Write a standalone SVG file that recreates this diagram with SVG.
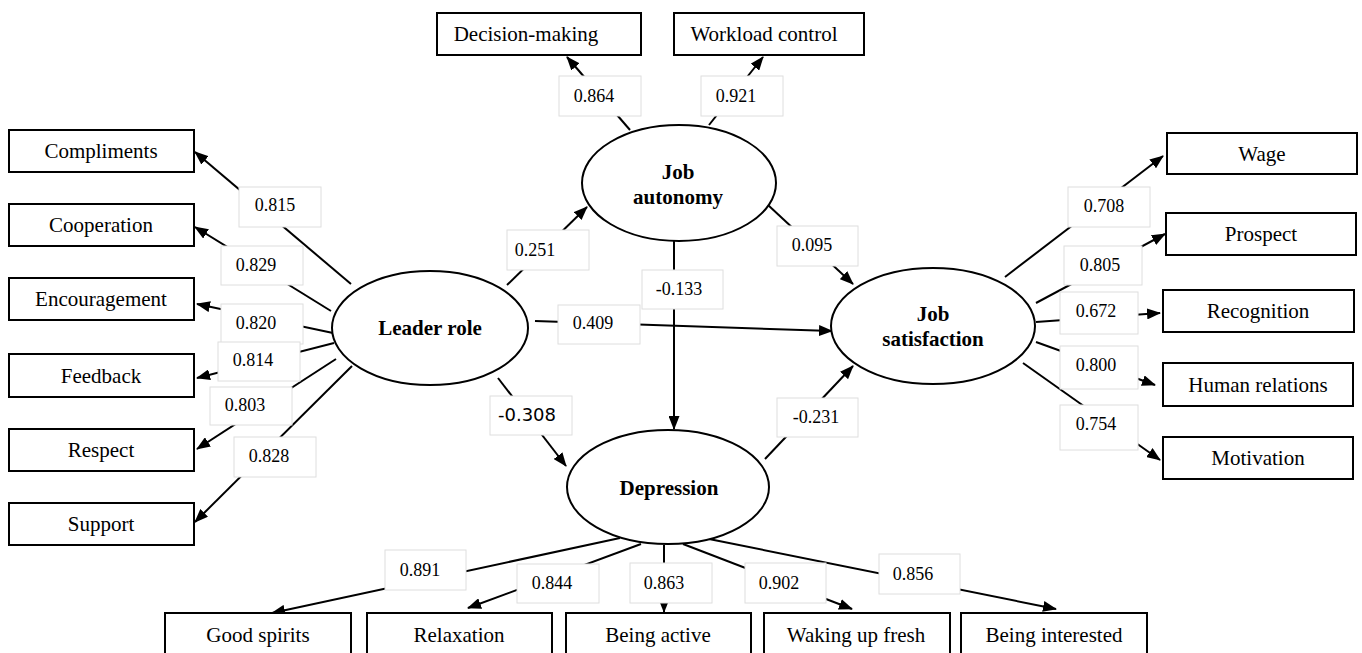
<svg xmlns="http://www.w3.org/2000/svg" width="1362" height="653" viewBox="0 0 1362 653">
<defs>
<marker id="ah" viewBox="0 0 14 11" refX="13" refY="5.5" markerWidth="14" markerHeight="11" markerUnits="userSpaceOnUse" orient="auto">
<path d="M0,0 L14,5.5 L0,11 z" fill="#000"/>
</marker>
<style>
.box{fill:#fff;stroke:#000;stroke-width:2}
.lat{fill:#fff;stroke:#000;stroke-width:2}
.lbl{fill:#fff;stroke:#dedede;stroke-width:1}
.t{font-family:"Liberation Serif",serif;font-size:21px;fill:#000;text-anchor:middle}
.tb{font-family:"Liberation Serif",serif;font-size:21px;font-weight:bold;fill:#000;text-anchor:middle}
.n{font-family:"Liberation Serif",serif;font-size:18px;fill:#000;text-anchor:middle}
.ns{font-family:"DejaVu Sans",sans-serif;font-size:18px;fill:#000;text-anchor:middle}
.c line{stroke:#000;stroke-width:2;marker-end:url(#ah)}
</style>
</defs>
<rect width="1362" height="653" fill="#fff"/>

<g id="connectors" class="c">
<line x1="351" y1="284" x2="195" y2="152"/>
<line x1="331" y1="311" x2="195" y2="227"/>
<line x1="333" y1="333" x2="197" y2="304"/>
<line x1="334" y1="343" x2="197" y2="378"/>
<line x1="336" y1="359" x2="197" y2="449"/>
<line x1="352" y1="366" x2="195" y2="522"/>
<line x1="630" y1="130" x2="567" y2="57"/>
<line x1="709" y1="125" x2="763" y2="57"/>
<line x1="507" y1="285" x2="587" y2="207"/>
<line x1="674" y1="240" x2="674" y2="429"/>
<line x1="535" y1="321" x2="832" y2="331"/>
<line x1="768" y1="205" x2="853" y2="284"/>
<line x1="498" y1="378" x2="566" y2="466"/>
<line x1="765" y1="459" x2="853" y2="366"/>
<line x1="1005" y1="277" x2="1163" y2="156"/>
<line x1="1036" y1="303" x2="1165" y2="234"/>
<line x1="1036" y1="322" x2="1160" y2="313"/>
<line x1="1036" y1="342" x2="1155" y2="385"/>
<line x1="1023" y1="363" x2="1160" y2="460"/>
<line x1="620" y1="538" x2="272" y2="613"/>
<line x1="641" y1="544" x2="468" y2="608"/>
<line x1="664" y1="545" x2="664" y2="612"/>
<line x1="683" y1="544" x2="852" y2="609"/>
<line x1="709" y1="539" x2="1056" y2="609"/>
</g>

<g id="labels">
<g id="l-0815"><rect class="lbl" x="239" y="187" width="82" height="40"/><text class="n" x="275" y="211">0.815</text></g>
<g id="l-0829"><rect class="lbl" x="221" y="246" width="82" height="39"/><text class="n" x="256" y="271">0.829</text></g>
<g id="l-0820"><rect class="lbl" x="221" y="304" width="82" height="40"/><text class="n" x="256" y="329">0.820</text></g>
<g id="l-0814"><rect class="lbl" x="218" y="342" width="82" height="39"/><text class="n" x="253" y="366">0.814</text></g>
<g id="l-0803"><rect class="lbl" x="210" y="387" width="82" height="38"/><text class="n" x="245" y="411">0.803</text></g>
<g id="l-0828"><rect class="lbl" x="234" y="437" width="82" height="40"/><text class="n" x="269" y="462">0.828</text></g>
<g id="l-0864"><rect class="lbl" x="559" y="76" width="82" height="40"/><text class="n" x="594" y="102">0.864</text></g>
<g id="l-0921"><rect class="lbl" x="701" y="76" width="82" height="40"/><text class="n" x="736" y="102">0.921</text></g>
<g id="l-0251"><rect class="lbl" x="507" y="230" width="82" height="40"/><text class="n" x="535" y="256">0.251</text></g>
<g id="l-m0133"><rect class="lbl" x="642" y="270" width="81" height="39"/><text class="n" x="679" y="295">-0.133</text></g>
<g id="l-0409"><rect class="lbl" x="558" y="305" width="82" height="39"/><text class="n" x="593" y="329">0.409</text></g>
<g id="l-0095"><rect class="lbl" x="777" y="226" width="81" height="40"/><text class="n" x="812" y="251">0.095</text></g>
<g id="l-m0308"><rect class="lbl" x="490" y="396" width="82" height="39"/><text class="ns" x="527" y="421">-0.308</text></g>
<g id="l-m0231"><rect class="lbl" x="777" y="398" width="81" height="39"/><text class="n" x="816" y="423">-0.231</text></g>
<g id="l-0708"><rect class="lbl" x="1068" y="187" width="82" height="40"/><text class="n" x="1104" y="212">0.708</text></g>
<g id="l-0805"><rect class="lbl" x="1064" y="246" width="78" height="39"/><text class="n" x="1100" y="271">0.805</text></g>
<g id="l-0672"><rect class="lbl" x="1060" y="292" width="78" height="42"/><text class="n" x="1096" y="317">0.672</text></g>
<g id="l-0800"><rect class="lbl" x="1060" y="346" width="78" height="43"/><text class="n" x="1096" y="371">0.800</text></g>
<g id="l-0754"><rect class="lbl" x="1060" y="405" width="78" height="45"/><text class="n" x="1096" y="430">0.754</text></g>
<g id="l-0891"><rect class="lbl" x="385" y="550" width="81" height="40"/><text class="n" x="420" y="576">0.891</text></g>
<g id="l-0844"><rect class="lbl" x="517" y="564" width="82" height="39"/><text class="n" x="552" y="589">0.844</text></g>
<g id="l-0863"><rect class="lbl" x="630" y="563" width="82" height="40"/><text class="n" x="664" y="589">0.863</text></g>
<g id="l-0902"><rect class="lbl" x="745" y="563" width="81" height="40"/><text class="n" x="779" y="589">0.902</text></g>
<g id="l-0856"><rect class="lbl" x="879" y="554" width="81" height="40"/><text class="n" x="913" y="580">0.856</text></g>
</g>

<g id="leader-role"><ellipse class="lat" cx="430" cy="328" rx="98" ry="57"/><text class="tb" x="430" y="335">Leader role</text></g>
<g id="job-autonomy"><ellipse class="lat" cx="679" cy="183" rx="97" ry="58"/><text class="tb" x="678" y="179">Job</text><text class="tb" x="678" y="204">autonomy</text></g>
<g id="job-satisfaction"><ellipse class="lat" cx="933" cy="326" rx="102" ry="58"/><text class="tb" x="933" y="321">Job</text><text class="tb" x="933" y="346">satisfaction</text></g>
<g id="depression"><ellipse class="lat" cx="668" cy="487" rx="101" ry="57"/><text class="tb" x="669" y="495">Depression</text></g>

<g id="compliments"><rect class="box" x="9" y="130" width="185" height="42"/><text class="t" x="101" y="158">Compliments</text></g>
<g id="cooperation"><rect class="box" x="9" y="204" width="185" height="42"/><text class="t" x="101" y="232">Cooperation</text></g>
<g id="encouragement"><rect class="box" x="9" y="278" width="185" height="42"/><text class="t" x="101" y="306">Encouragement</text></g>
<g id="feedback"><rect class="box" x="9" y="354" width="185" height="43"/><text class="t" x="101" y="383">Feedback</text></g>
<g id="respect"><rect class="box" x="9" y="429" width="185" height="42"/><text class="t" x="101" y="457">Respect</text></g>
<g id="support"><rect class="box" x="9" y="503" width="185" height="42"/><text class="t" x="101" y="531">Support</text></g>

<g id="decision-making"><rect class="box" x="437" y="13" width="204" height="42"/><text class="t" x="526" y="41">Decision-making</text></g>
<g id="workload-control"><rect class="box" x="674" y="13" width="190" height="42"/><text class="t" x="764" y="41">Workload control</text></g>

<g id="wage"><rect class="box" x="1167" y="133" width="190" height="41"/><text class="t" x="1262" y="161">Wage</text></g>
<g id="prospect"><rect class="box" x="1166" y="213" width="190" height="42"/><text class="t" x="1261" y="241">Prospect</text></g>
<g id="recognition"><rect class="box" x="1163" y="290" width="191" height="42"/><text class="t" x="1258" y="318">Recognition</text></g>
<g id="human-relations"><rect class="box" x="1163" y="363" width="190" height="43"/><text class="t" x="1258" y="392">Human relations</text></g>
<g id="motivation"><rect class="box" x="1163" y="437" width="190" height="42"/><text class="t" x="1258" y="465">Motivation</text></g>

<g id="good-spirits"><rect class="box" x="165" y="613" width="186" height="44"/><text class="t" x="258" y="642">Good spirits</text></g>
<g id="relaxation"><rect class="box" x="367" y="613" width="185" height="44"/><text class="t" x="459" y="642">Relaxation</text></g>
<g id="being-active"><rect class="box" x="566" y="613" width="185" height="44"/><text class="t" x="658" y="642">Being active</text></g>
<g id="waking-up-fresh"><rect class="box" x="764" y="613" width="186" height="44"/><text class="t" x="856" y="642">Waking up fresh</text></g>
<g id="being-interested"><rect class="box" x="961" y="613" width="186" height="44"/><text class="t" x="1054" y="642">Being interested</text></g>
</svg>
